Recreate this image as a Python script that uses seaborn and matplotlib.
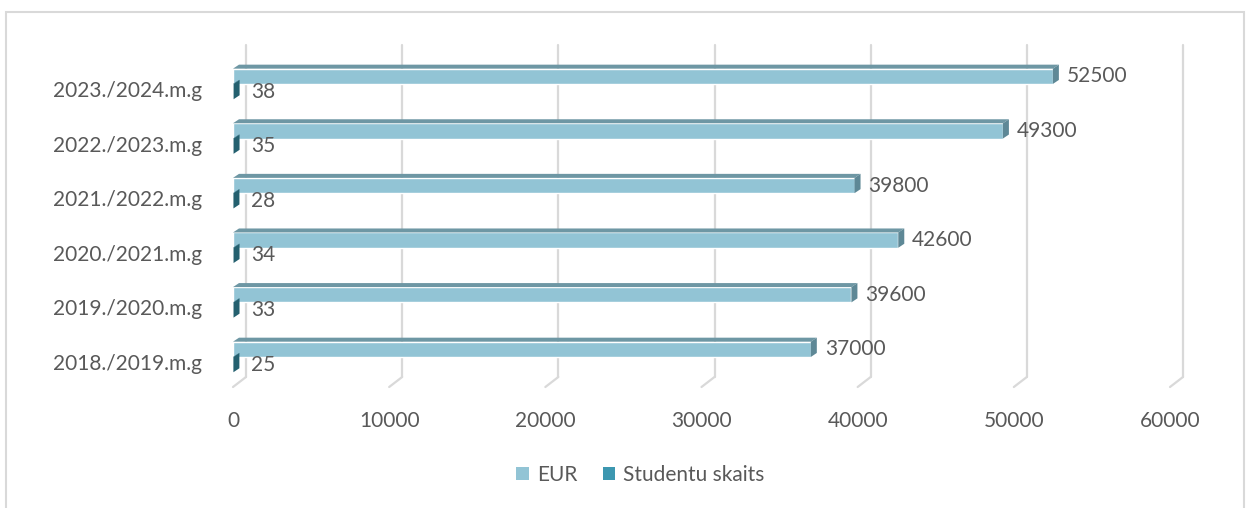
import numpy as np
import pandas as pd
import matplotlib
matplotlib.use('Agg')
import matplotlib.pyplot as plt
import matplotlib.transforms as mtransforms
from matplotlib.patches import Polygon, Patch, Rectangle
import seaborn as sns

# data
years = ['2018./2019.m.g', '2019./2020.m.g', '2020./2021.m.g',
         '2021./2022.m.g', '2022./2023.m.g', '2023./2024.m.g']
eur = [37000, 39600, 42600, 39800, 49300, 52500]
students = [25, 33, 34, 28, 35, 38]
series = ['EUR', 'Studentu skaits']
xticks = [0, 10000, 20000, 30000, 40000, 50000, 60000]

df = pd.DataFrame({
    'year': years * 2,
    'value': eur + students,
    'series': [series[0]] * len(years) + [series[1]] * len(years),
})

front = {'EUR': '#92C4D5', 'Studentu skaits': '#3C97B0'}
top_col = {'EUR': '#6E97A4', 'Studentu skaits': '#2B6373'}
side_col = {'EUR': '#5E8896', 'Studentu skaits': '#24606F'}
grey = '#595959'
grid_col = '#D9D9D9'

sns.set_style('white')
plt.rcParams['font.family'] = ['Lato', 'DejaVu Sans']

fig = plt.figure(figsize=(12.51, 5.08), dpi=100)
ax = fig.add_axes([233/1251, 1-387/508, 937/1251, (387-55)/508])

sns.barplot(data=df, y='year', x='value', hue='series', order=years[::-1],
            hue_order=series, palette=front, saturation=1, width=0.56,
            orient='h', ax=ax, legend=False, zorder=3)

ax.set_xlim(0, 60000)
ax.set_ylim(5.55, -0.53)
ax.set_xlabel('')
ax.set_ylabel('')
for s in ax.spines.values():
    s.set_visible(False)

# back-wall gridlines with a slanted floor segment (offsets in pixels)
gx, gy = 13, 10
back = ax.get_xaxis_transform() + mtransforms.ScaledTranslation(gx/100, gy/100, fig.dpi_scale_trans)
for v in xticks:
    ax.plot([v, v], [0, 1], transform=back, color=grid_col, lw=1.6, clip_on=False, zorder=0)
    ax.annotate('', xy=(v, 0), xycoords=ax.get_xaxis_transform(),
                xytext=(gx*0.72, gy*0.72), textcoords='offset points',
                arrowprops=dict(arrowstyle='-', color=grid_col, lw=1.6,
                                shrinkA=0, shrinkB=0), zorder=0)

ax.set_xticks(xticks)
ax.set_xticklabels([str(v) for v in xticks])
ax.tick_params(axis='x', length=0, pad=17, labelsize=15, labelcolor=grey)
ax.tick_params(axis='y', length=0, pad=22, labelsize=15, labelcolor=grey)
shift = mtransforms.ScaledTranslation(0, -5/100, fig.dpi_scale_trans)
for lab in ax.get_yticklabels():
    lab.set_transform(lab.get_transform() + shift)

# fake 3D faces on each bar
fig.canvas.draw()
dx, dy = 6, 4
for name, cont in zip(series, ax.containers):
    for p in cont.patches:
        (x0, yb), (x1, yt) = ax.transData.transform(
            [(p.get_x(), p.get_y() + p.get_height()), (p.get_x() + p.get_width(), p.get_y())])
        topf = Polygon([(x0, yt), (x1, yt), (x1+dx, yt+dy), (x0+dx, yt+dy)],
                       closed=True, transform=None, facecolor=top_col[name],
                       edgecolor='none', zorder=2)
        sidef = Polygon([(x1, yt), (x1, yb), (x1+dx, yb+dy), (x1+dx, yt+dy)],
                        closed=True, transform=None, facecolor=side_col[name],
                        edgecolor='none', zorder=2)
        fig.add_artist(topf)
        fig.add_artist(sidef)

lab_shift = mtransforms.ScaledTranslation(0, -2/100, fig.dpi_scale_trans)
for cont, pad in zip(ax.containers, [10, 13]):
    for t in ax.bar_label(cont, fmt='%d', padding=pad, fontsize=15, color=grey):
        t.set_transform(t.get_transform() + lab_shift)

handles = [Patch(facecolor=front[s], edgecolor='none', label=s) for s in series]
fig.legend(handles=handles, loc='center', bbox_to_anchor=(0.512, 1-475/508), ncol=2,
           frameon=False, fontsize=15, labelcolor=grey, handlelength=0.6,
           handleheight=0.6, handletextpad=0.4, columnspacing=1.2)

fig.patches.append(Rectangle((6/1251, -0.05), 1238/1251, 1.05-12/508,
                             transform=fig.transFigure, fill=False,
                             edgecolor=grid_col, lw=1.5))

fig.savefig('out.png', dpi=100)
